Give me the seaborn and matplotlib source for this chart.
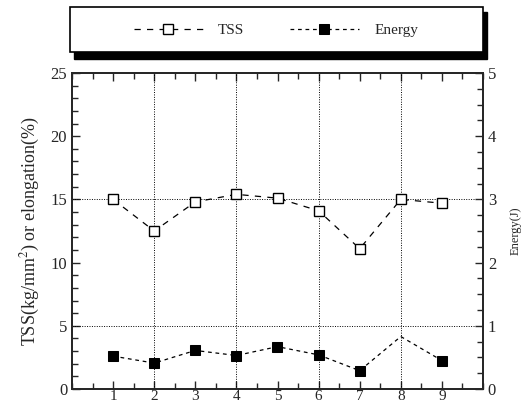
import seaborn as sns
import matplotlib.pyplot as plt
import pandas as pd
import numpy as np
from matplotlib.patches import Rectangle
from matplotlib.ticker import MultipleLocator

# values
samples = [1, 2, 3, 4, 5, 6, 7, 8, 9]
tss = [15.0, 12.5, 14.8, 15.4, 15.1, 14.1, 11.1, 15.0, 14.7]
energy = [0.52, 0.41, 0.61, 0.53, 0.67, 0.54, 0.29, 0.83, 0.45]
# no marker visible at sample 8 for energy in the source
energy_marked = [0, 1, 2, 3, 4, 5, 6, 8]

df = pd.DataFrame({'sample': samples, 'TSS': tss, 'Energy': energy})

sns.set_style('ticks')
plt.rcParams['font.family'] = ['Liberation Serif', 'DejaVu Serif']
plt.rcParams['mathtext.fontset'] = 'stix'

fig = plt.figure(figsize=(5.25, 4.07), dpi=100)
ax = fig.add_axes([72 / 525, 18 / 407, 411 / 525, 316 / 407])
ax2 = ax.twinx()

sns.lineplot(data=df, x='sample', y='TSS', ax=ax, color='black', lw=0.9,
             marker='s', markersize=7.5, markerfacecolor='white',
             markeredgecolor='black', markeredgewidth=1.0, label='TSS',
             legend=False, zorder=3)
ax.lines[-1].set_dashes((5, 5))

sns.lineplot(data=df, x='sample', y='Energy', ax=ax2, color='black', lw=0.9,
             marker='s', markersize=7.5, markerfacecolor='black',
             markeredgecolor='black', markevery=energy_marked, label='Energy',
             legend=False, zorder=3)
ax2.lines[-1].set_dashes((3, 3))

ax.set_xlim(0, 10)
ax.set_ylim(0, 25)
ax2.set_ylim(0, 5)

# dotted grid
for xv in [2, 4, 6, 8]:
    ax.axvline(xv, color='black', ls=(0, (1, 1.5)), lw=0.7, zorder=1)
for yv in [5, 15]:
    ax.axhline(yv, color='black', ls=(0, (1, 1.5)), lw=0.7, zorder=1)

ax.set_xticks(samples)
ax.xaxis.set_minor_locator(MultipleLocator(0.5))
ax.yaxis.set_major_locator(MultipleLocator(5))
ax.yaxis.set_minor_locator(MultipleLocator(1))
ax2.yaxis.set_major_locator(MultipleLocator(1))
ax2.yaxis.set_minor_locator(MultipleLocator(0.25))

ax.tick_params(which='both', direction='in', top=True, labelsize=12, width=1.0)
ax.tick_params(which='major', length=6)
ax.tick_params(which='minor', length=4)
ax.tick_params(axis='x', pad=1, labelsize=11)
ax2.tick_params(which='both', direction='in', labelsize=12, width=1.0)
ax2.tick_params(which='major', length=6)
ax2.tick_params(which='minor', length=4)

for a in (ax, ax2):
    for s in a.spines.values():
        s.set_linewidth(1.3)

ax.set_xlabel('')
ax.set_ylabel('TSS(kg/mm$^2$) or elongation(%)', fontsize=13, labelpad=6)
ax2.set_ylabel('Energy(J)', fontsize=9, labelpad=10)

# legend box with heavy drop shadow
fig.patches.append(Rectangle((74 / 525, 1 - 59 / 407), 413 / 525, 47 / 407,
                             transform=fig.transFigure, facecolor='black',
                             edgecolor='black', zorder=1))
fig.patches.append(Rectangle((70 / 525, 1 - 52 / 407), 413 / 525, 45 / 407,
                             transform=fig.transFigure, facecolor='white',
                             edgecolor='black', lw=1.2, zorder=2))
handles = [ax.lines[0], ax2.lines[0]]
fig.legend(handles, ['TSS', 'Energy'], loc='center',
           bbox_to_anchor=(276 / 525, 1 - 30 / 407), ncol=2, frameon=False,
           fontsize=11, handlelength=4.5, columnspacing=3.0, handletextpad=1.0)

fig.savefig('out.png', dpi=100)
